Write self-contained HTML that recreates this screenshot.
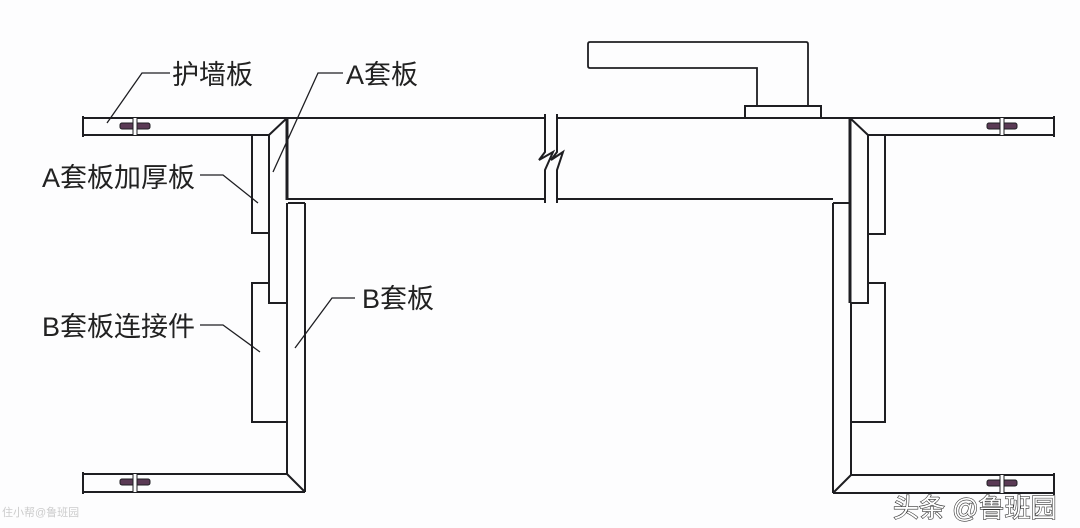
<!DOCTYPE html>
<html><head><meta charset="utf-8"><style>
html,body{margin:0;padding:0;background:#fdfdfe;}
svg{display:block}
text{font-family:"Liberation Sans","Noto Sans CJK SC",sans-serif;fill:#222;}
</style></head><body>
<svg width="1080" height="528" viewBox="0 0 1080 528" xmlns="http://www.w3.org/2000/svg">
<rect width="1080" height="528" fill="#fdfdfe"/>
<g fill="none" stroke="#1e1e22" stroke-width="2">
<!-- left top wall -->
<path d="M83 118 H287 M83 135 H269 M83 116 V137"/>
<path d="M269 135 L287 118"/>
<!-- left A frame -->
<path d="M269 135 V303 H287"/>
<path d="M287 118 V200" stroke-width="3"/>
<!-- thickening board -->
<path d="M269 135 H252 V233 H269"/>
<!-- connector -->
<path d="M268 283 H252 V422 H287"/>
<!-- B frame -->
<path d="M287 203 V474 M305 203 V492 M288 203 H305"/>
<path d="M83 474 H287 M83 492 H305 M83 472 V494 M287 474 L305 492"/>
<!-- door slab -->
<path d="M287 118 H545 M557 118 H850 M287 199 H545 M557 199 H833"/>
<path d="M545 114 V152 L539 160 L553 152 L545 170 V203"/>
<path d="M557 114 V152 L551 160 L563 152 L557 170 V203"/>
<!-- handle -->
<path d="M745 118 V106 H821 V118"/>
<path d="M757 106 V68 H590 Q588 68 588 66 V44 Q588 42 590 42 H806 Q808 42 808 44 V106" stroke-width="1.8"/>
<!-- right side -->
<path d="M850 118 H1054 M868 135 H1054 M1054 116 V137 M850 118 L868 135"/>
<path d="M850 118 V303" stroke-width="3"/>
<path d="M868 135 V303 H851"/>
<path d="M868 135 H885 V234 H868"/>
<path d="M868 283 H885 V422 H851"/>
<path d="M833 203 V493 M851 303 V475 M833 203 H850"/>
<path d="M851 475 H1054 M833 493 H1054 M1054 473 V495 M851 475 L833 493"/>
<!-- leaders -->
<g stroke-width="1.3">
<path d="M170 73 H142 L107 123"/>
<path d="M343 73 H318 L273 172"/>
<path d="M200 175 H223 L258 203"/>
<path d="M200 325 H223 L260 352"/>
<path d="M355 298 H332 L295 348"/>
</g>
</g>
<!-- joints -->
<g fill="#5a3a55" stroke="#1e1e22" stroke-width="1">
<rect x="120" y="123" width="30" height="6" rx="2"/>
<rect x="120" y="479" width="30" height="6" rx="2"/>
<rect x="987" y="123" width="30" height="6" rx="2"/>
<rect x="987" y="480" width="30" height="6" rx="2"/>
</g>
<g stroke="#fdfdfe" stroke-width="3">
<path d="M135 118 V135 M135 474 V492 M1002 118 V135 M1002 475 V493"/>
</g>
<g stroke="#1e1e22" stroke-width="1">
<path d="M133 118 V135 M137 118 V135 M133 474 V492 M137 474 V492 M1000 118 V135 M1004 118 V135 M1000 475 V493 M1004 475 V493"/>
</g>
<!-- labels -->
<text x="172" y="84" font-size="27">护墙板</text>
<text x="346" y="84" font-size="27">A套板</text>
<text x="42" y="187" font-size="27">A套板加厚板</text>
<text x="42" y="336" font-size="27">B套板连接件</text>
<text x="362" y="308" font-size="27">B套板</text>
<text x="893" y="517" font-size="26" style="fill:#fff;stroke:#333;stroke-width:1.2;paint-order:stroke">头条 @鲁班园</text>
<text x="2" y="516" font-size="11" style="fill:#ccc">住小帮@鲁班园</text>
</svg>
</body></html>
